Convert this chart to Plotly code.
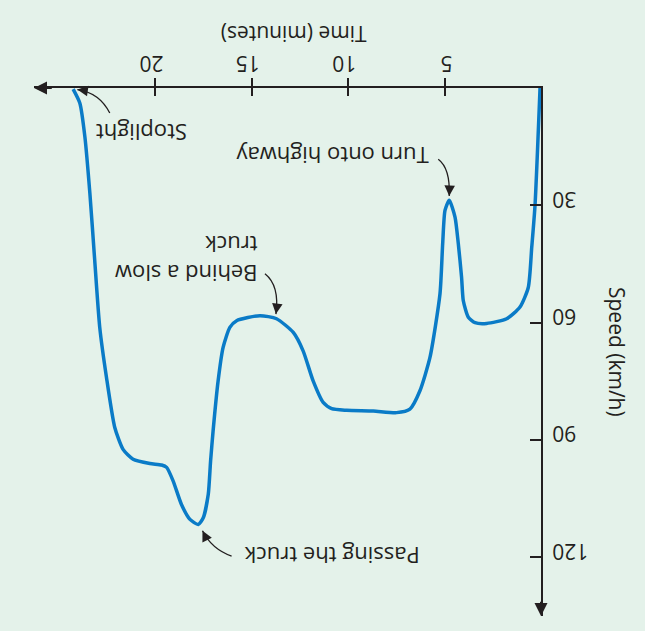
import plotly.graph_objects as go

# ---- data ----
time_min = [0.05, 0.31, 0.48, 0.66, 1.09, 1.78, 2.82, 3.42, 3.77, 4.03, 4.12, 4.29, 4.46,
            4.76, 4.98, 5.10, 5.24, 5.76, 6.28, 6.80, 7.49, 8.70, 10.08, 10.86, 11.30,
            11.82, 12.34, 12.85, 13.72, 14.58, 15.79, 16.14, 16.49, 16.75, 17.01, 17.14,
            17.26, 17.52, 17.78, 18.21, 18.65, 19.08, 19.42, 19.68, 20.29, 21.16, 21.68,
            22.11, 22.54, 22.89, 23.15, 23.40, 23.66, 23.92, 24.27]
speed_kmh = [0, 30, 40.7, 51, 56, 59, 60.2, 60, 58.6, 54.4, 48.4, 39.8, 33,
             28.7, 31.3, 39.8, 52.6, 68.9, 77.4, 82.1, 83, 82.6, 82.4, 82, 80.4,
             74.9, 67.2, 62.5, 59, 58.2, 59.5, 61.2, 66.3, 74.9, 87.7, 95.4,
             103.9, 109.9, 111.6, 110.3, 106.5, 100.5, 97, 96.4, 96, 94.9, 92.4,
             86.8, 74, 61.2, 44.1, 27, 12.5, 3.9, 0.3]
time_ticks = [5, 10, 15, 20]
speed_ticks = [30, 60, 90, 120]
speed_tick_text = ["\u200730", "\u200760", "\u200790", "120"]

# annotations: label, text position, arrow start, control, tip
notes = [
    ("Stoplight", (20.75, 11.5), (22.37, 6.4), (22.9, 1.2), (24.05, 0.4)),
    ("Turn onto highway", (10.85, 17.4), (5.33, 18.2), (4.70, 20.5), (4.76, 27.6)),
    ("Behind a slow<br>truck", (18.40, 43.8), (14.32, 47.5), (13.55, 50.5), (13.75, 57.8)),
    ("Passing the truck", (10.85, 119.6), (16.05, 119.7), (17.1, 117.8), (17.56, 113.2)),
]

BG = "#e4f2ea"
INK = "#231f20"
BLUE = "#0a7bc7"
FONT = "Open Sans"
X_MAX = 26.3
Y_MAX = 135

fig = go.Figure()
fig.add_trace(go.Scatter(x=time_min, y=speed_kmh, mode="lines",
                         line=dict(color=BLUE, width=3.5, shape="spline", smoothing=0.6),
                         hoverinfo="skip", showlegend=False))
# invisible trace to activate overlaid tick axis
fig.add_trace(go.Scatter(x=time_min, y=speed_kmh, mode="lines", xaxis="x2",
                         line=dict(width=0, color="rgba(0,0,0,0)"),
                         hoverinfo="skip", showlegend=False))

fig.update_layout(
    width=645, height=631,
    margin=dict(l=34, r=104, t=88, b=15),
    paper_bgcolor=BG, plot_bgcolor=BG,
    font=dict(family=FONT, color=INK, size=21),
    showlegend=False,
    xaxis=dict(range=[X_MAX, 0], side="top", showgrid=False, zeroline=False,
               showline=True, linecolor=INK, linewidth=2,
               tickvals=time_ticks, ticks="outside", ticklen=8, tickwidth=1.5, tickcolor=INK,
               tickangle=180, tickfont=dict(size=21, family=FONT, color=INK),
               ticklabelstandoff=-7, ticklabelshift=-8),
    xaxis2=dict(range=[X_MAX, 0], side="top", overlaying="x", anchor="y",
                showgrid=False, zeroline=False, showline=False,
                tickvals=time_ticks, ticks="inside", ticklen=8, tickwidth=1.5, tickcolor=INK,
                showticklabels=False),
    yaxis=dict(range=[Y_MAX, 0], side="right", showgrid=False, zeroline=False,
               showline=True, linecolor=INK, linewidth=2,
               tickvals=speed_ticks, ticktext=speed_tick_text,
               ticks="inside", ticklen=11, tickwidth=1.5, tickcolor=INK,
               tickangle=180, tickfont=dict(size=21, family=FONT, color=INK),
               ticklabelstandoff=41),
)

# axis arrowheads
fig.add_annotation(x=X_MAX, y=0, ax=X_MAX - 1.0, ay=0, xref="x", yref="y", axref="x", ayref="y",
                   text="", showarrow=True, arrowhead=2, arrowsize=1.3, arrowwidth=2, arrowcolor=INK)
fig.add_annotation(x=0, y=Y_MAX, ax=0, ay=Y_MAX - 4, xref="x", yref="y", axref="x", ayref="y",
                   text="", showarrow=True, arrowhead=2, arrowsize=1.3, arrowwidth=2, arrowcolor=INK)

# axis titles
fig.add_annotation(x=(X_MAX / 2) - 0.3, y=1, xref="x", yref="paper", yshift=54,
                   text="Time (minutes)", textangle=180, showarrow=False,
                   font=dict(size=21, family=FONT, color=INK), xanchor="center", yanchor="middle")
fig.add_annotation(x=1, y=0.5, xref="paper", yref="paper", xshift=76,
                   text="Speed (km/h)", textangle=90, showarrow=False,
                   font=dict(size=21, family=FONT, color=INK), xanchor="center", yanchor="middle")

# callouts
for label, (tx, ty), (sx, sy), (cx, cy), (px, py) in notes:
    fig.add_annotation(x=tx, y=ty, xref="x", yref="y", text=label, textangle=180,
                       showarrow=False, align="left",
                       font=dict(size=22, family=FONT, color=INK),
                       xanchor="center", yanchor="middle")
    fig.add_shape(type="path", xref="x", yref="y",
                  path=f"M {sx},{sy} Q {cx},{cy} {px},{py}",
                  line=dict(color=INK, width=1.3))
    # arrowhead along tangent (control -> tip)
    fig.add_annotation(x=px, y=py, ax=px + (cx - px) * 0.25, ay=py + (cy - py) * 0.25,
                       xref="x", yref="y", axref="x", ayref="y", text="", showarrow=True,
                       arrowhead=2, arrowsize=1.5, arrowwidth=1.4, arrowcolor=INK)

fig.write_html("out.html", config={"displayModeBar": False},
               post_script="document.body.style.margin='0';")
